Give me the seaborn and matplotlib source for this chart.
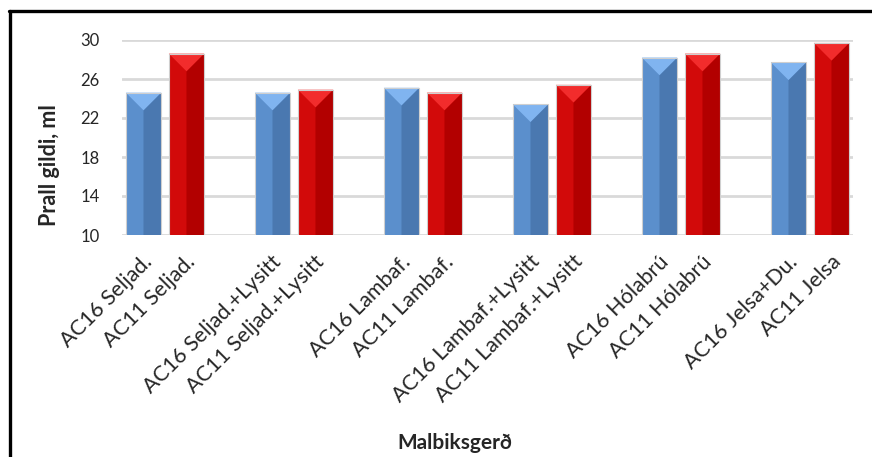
import numpy as np
import pandas as pd
import seaborn as sns
import matplotlib
matplotlib.use("Agg")
import matplotlib.pyplot as plt
import matplotlib.transforms as mtransforms
from matplotlib.patches import Polygon
from matplotlib.lines import Line2D

# Prall values (ml) per asphalt mix
mixes = ["AC16 Seljad.", "AC11 Seljad.",
         "AC16 Seljad.+Lysitt", "AC11 Seljad.+Lysitt",
         "AC16 Lambaf.", "AC11 Lambaf.",
         "AC16 Lambaf.+Lysitt", "AC11 Lambaf.+Lysitt",
         "AC16 Hólabrú", "AC11 Hólabrú",
         "AC16 Jelsa+Du.", "AC11 Jelsa"]
grading = ["AC16", "AC11"] * 6
prall = [24.6, 28.6, 24.6, 24.9, 25.1, 24.6, 23.4, 25.4, 28.2, 28.6, 27.7, 29.7]
y_ticks = [10, 14, 18, 22, 26, 30]

# pairs are separated by an empty slot on the category axis
order = []
for i in range(0, len(mixes), 2):
    order += [mixes[i], mixes[i + 1]]
    if i + 2 < len(mixes):
        order.append(" " * (i // 2 + 1))

df = pd.DataFrame({"mix": mixes, "grading": grading, "prall": prall})

sns.set_theme(style="white")
plt.rcParams["font.family"] = ["Lato", "DejaVu Sans"]

W, H = 872, 457
fig = plt.figure(figsize=(W / 100, H / 100), dpi=100)
ax_left, ax_right, ax_top, ax_bottom = 122, 853, 40, 235
ax = fig.add_axes([ax_left / W, 1 - ax_bottom / H,
                   (ax_right - ax_left) / W, (ax_bottom - ax_top) / H])

hue_levels = ["AC16", "AC11"]
face = {"AC16": "#5b8fcc", "AC11": "#d20a0a"}
sns.barplot(data=df, x="mix", y="prall", hue="grading", order=order,
            hue_order=hue_levels, palette=face, saturation=1, dodge=False,
            width=0.82, legend=False, linewidth=0, ax=ax, zorder=3)

ymin, ymax = 10, 30
ax.set_ylim(ymin, ymax)
ax.set_xlim(-0.5, len(order) - 0.5)
ax.set_yticks(y_ticks)
ax.grid(axis="y", color="#d9d9d9", linewidth=2, zorder=0)
ax.grid(axis="x", visible=False)
for s in ax.spines.values():
    s.set_visible(False)

# bevelled shading on each bar: lighter cap triangle, darker right half
shade = {"AC16": ("#80b4f0", "#4a78b0"), "AC11": ("#f22c2c", "#b20000")}
px_per_x = (ax_right - ax_left) / len(order)
px_per_y = (ax_bottom - ax_top) / (ymax - ymin)
for level, container in zip(hue_levels, ax.containers):
    cap, dark = shade[level]
    for p in container.patches:
        h = p.get_height()
        if not np.isfinite(h) or h <= 0:
            continue
        x0, w = p.get_x(), p.get_width()
        top = p.get_y() + h
        xm = x0 + w / 2
        dy = (w / 2) * px_per_x / px_per_y  # 45 degree bevel depth
        ax.add_patch(Polygon([(xm, ymin), (x0 + w, ymin), (x0 + w, top), (xm, top - dy)],
                             closed=True, facecolor=dark, edgecolor="none", zorder=3.5))
        ax.add_patch(Polygon([(x0, top), (x0 + w, top), (xm, top - dy)],
                             closed=True, facecolor=cap, edgecolor="none", zorder=3.6))
        ax.add_patch(Polygon([(x0, ymin), (x0, top), (x0 + w, top), (x0 + w, ymin)],
                             closed=False, fill=False, edgecolor="#cfcfcf",
                             linewidth=0.8, zorder=3.7))

ax.tick_params(axis="y", labelsize=12, pad=16, length=0)
ax.tick_params(axis="x", length=0, pad=17)
ax.set_xticks(range(len(order)))
ax.set_xticklabels(order, rotation=45, ha="right", rotation_mode="anchor",
                   va="center", fontsize=15.5)
shift = mtransforms.ScaledTranslation(6 / 100, 0, fig.dpi_scale_trans)
for lab in ax.get_xticklabels():
    lab.set_transform(lab.get_transform() + shift)
ax.set_xlabel("")
ax.set_ylabel("")

fig.text(50 / W, 1 - 165 / H, "Prall gildi, ml", rotation=90, ha="center",
         va="center", fontsize=15.5, fontweight="bold")
fig.text(455 / W, 1 - 443 / H, "Malbiksgerð", ha="center", va="center",
         fontsize=15, fontweight="bold")

# chart frame, left and top edges
fig.add_artist(Line2D([10 / W, 10 / W], [0, 1 - 10.5 / H],
                      transform=fig.transFigure, color="black", linewidth=2.4))
fig.add_artist(Line2D([8.8 / W, 1], [1 - 10.5 / H, 1 - 10.5 / H],
                      transform=fig.transFigure, color="black", linewidth=2.4))

fig.savefig("out.png", dpi=100)
